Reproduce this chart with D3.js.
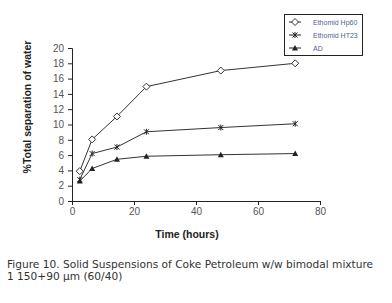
<!DOCTYPE html>
<html>
<head>
<meta charset="utf-8">
<script src="https://cdn.jsdelivr.net/npm/d3@7"></script>
<style>
  body { margin: 0; background: #fff; }
  .tick text { font-family: "Liberation Sans", Arial, sans-serif; font-size: 10px; fill: #555; }
  .caption { font-family: "DejaVu Sans", sans-serif; font-size: 10.6px; fill: #333; }
  .atitle { font-family: "Liberation Sans", Arial, sans-serif; font-size: 10.5px; font-weight: bold; fill: #222; }
  .legend_text { font-family: "Liberation Sans", Arial, sans-serif; font-size: 7px; fill: #4f5f8f; }
</style>
</head>
<body>
<div id="chart"></div>
<script>
// time (hours) for each reading
var times = [2.5, 6.5, 14.5, 24, 48, 72];

var seriesNames = ["Ethomid Hp60", "Ethomid HT23", "AD"];
var hp60 = [3.9, 8.05, 11.05, 14.95, 17.05, 18.0];
var ht23 = [2.8, 6.2, 7.05, 9.05, 9.6, 10.1];
var ad   = [2.6, 4.25, 5.45, 5.85, 6.05, 6.2];

var xTicks = [0, 20, 40, 60, 80];
var yTicks = [0, 2, 4, 6, 8, 10, 12, 14, 16, 18, 20];

var allSeries = [
  { name: seriesNames[0], values: hp60, marker: "diamond" },
  { name: seriesNames[1], values: ht23, marker: "star" },
  { name: seriesNames[2], values: ad,   marker: "triangle" }
];

var svg = d3.select("#chart").append("svg")
    .attr("width", 392)
    .attr("height", 303);

var x = d3.scaleLinear().domain([0, 80]).range([72, 320]);
var y = d3.scaleLinear().domain([0, 20]).range([201, 48]);

// axes
svg.append("g")
    .attr("transform", "translate(0,201)")
    .call(d3.axisBottom(x).tickValues(xTicks).tickSize(4).tickPadding(3))
    .call(function(g) { g.selectAll("line, path").attr("stroke", "#222"); });

svg.append("g")
    .attr("transform", "translate(72,0)")
    .call(d3.axisLeft(y).tickValues(yTicks).tickSize(4).tickPadding(4))
    .call(function(g) { g.selectAll("line, path").attr("stroke", "#222"); });

// draws one marker at 0,0
function drawMarker(g, type) {
  if (type == "diamond") {
    g.append("path").attr("d", "M0,-3.5L3.5,0L0,3.5L-3.5,0Z")
      .attr("fill", "#fff").attr("stroke", "#333").attr("stroke-width", 1);
  } else if (type == "star") {
    g.append("path").attr("d", "M-2.5,-2.5L2.5,2.5M-2.5,2.5L2.5,-2.5M0,-3L0,3")
      .attr("stroke", "#222").attr("stroke-width", 1);
  } else {
    g.append("path").attr("d", "M0,-3L3,2.5L-3,2.5Z").attr("fill", "#222");
  }
}

var line = d3.line()
    .x(function(d, i) { return x(times[i]); })
    .y(function(d) { return y(d); });

allSeries.forEach(function(s) {
  svg.append("path")
      .datum(s.values)
      .attr("fill", "none")
      .attr("stroke", "#333")
      .attr("stroke-width", 1)
      .attr("d", line);

  s.values.forEach(function(v, i) {
    var g = svg.append("g").attr("transform", "translate(" + x(times[i]) + "," + y(v) + ")");
    drawMarker(g, s.marker);
  });
});

// legend
svg.append("rect")
    .attr("x", 284.5).attr("y", 14.5)
    .attr("width", 78).attr("height", 41)
    .attr("fill", "#fff").attr("stroke", "#222").attr("stroke-width", 1);

allSeries.forEach(function(s, i) {
  var ly = 22 + i * 13;
  svg.append("line")
      .attr("x1", 289).attr("x2", 301).attr("y1", ly).attr("y2", ly)
      .attr("stroke", "#222");
  var g = svg.append("g").attr("transform", "translate(295," + ly + ")");
  drawMarker(g, s.marker);
  svg.append("text")
      .attr("class", "legend_text")
      .attr("x", 313).attr("y", ly + 2.5)
      .text(s.name);
});

// axis titles
svg.append("text")
    .attr("class", "atitle")
    .attr("text-anchor", "middle")
    .attr("transform", "translate(31,107) rotate(-90)")
    .text("%Total separation of water");

svg.append("text")
    .attr("class", "atitle")
    .attr("text-anchor", "middle")
    .attr("x", 187).attr("y", 238)
    .text("Time (hours)");

// caption
svg.append("text")
    .attr("class", "caption")
    .attr("x", 7).attr("y", 267.5)
    .text("Figure 10. Solid Suspensions of Coke Petroleum w/w bimodal mixture");
svg.append("text")
    .attr("class", "caption")
    .attr("x", 7).attr("y", 279.5)
    .text("1 150+90  µm (60/40)");
</script>
</body>
</html>
